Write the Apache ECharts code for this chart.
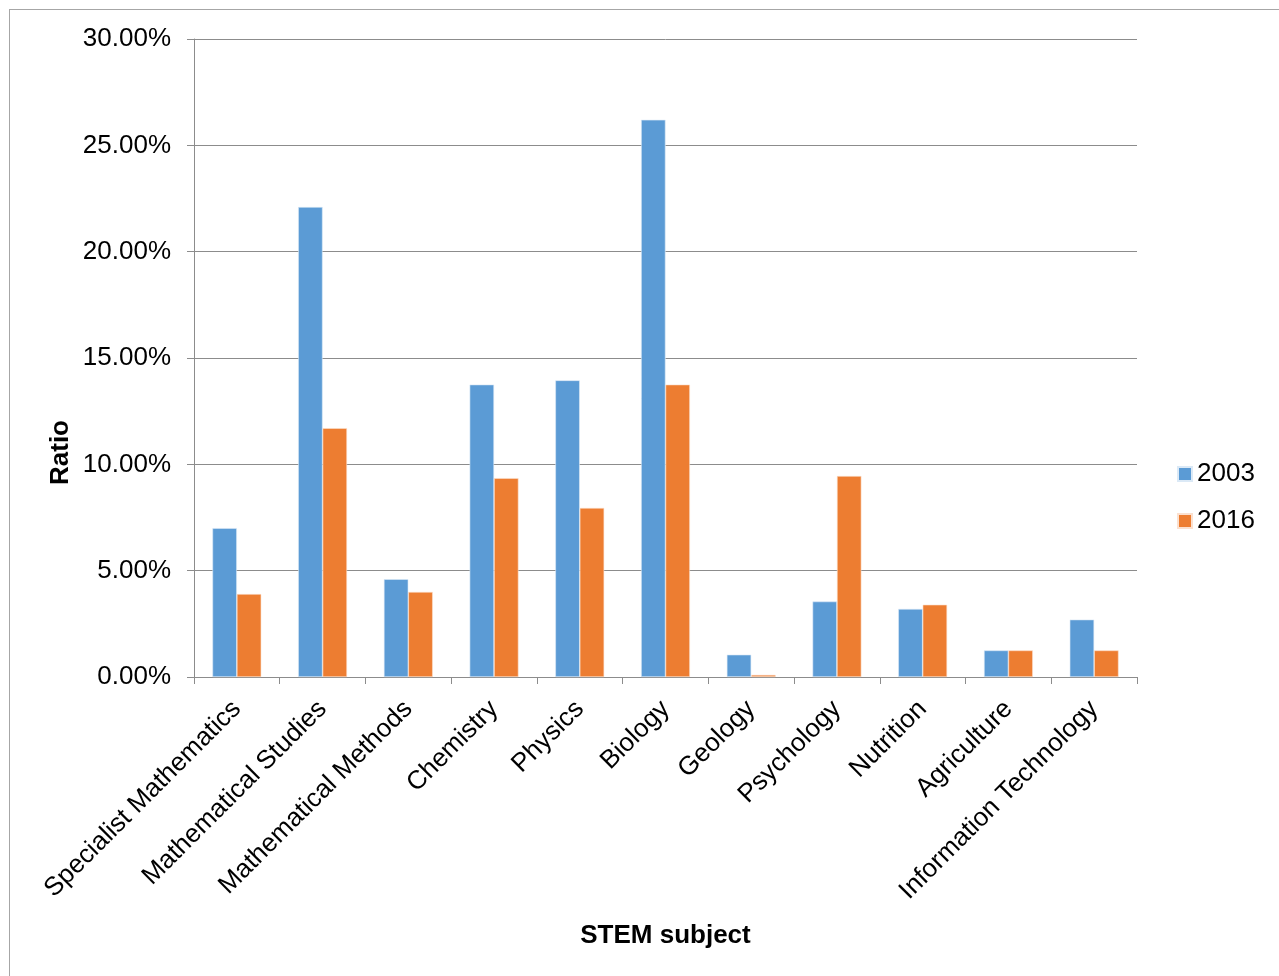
<!DOCTYPE html>
<html style="height: 100%">
<head>
    <meta charset="utf-8">
    <title>STEM subject ratio</title>
    <script src="https://cdn.jsdelivr.net/npm/echarts@6/dist/echarts.min.js"></script>
</head>
<body style="height: 100%; margin: 0; background: #fff">
<div id="frame" style="position: absolute; left: 9px; top: 9px; width: 1300px; height: 1000px; border: 1px solid #a6a6a6; box-sizing: border-box"></div>
<div id="container" style="position: absolute; left: 0; top: 0; width: 1279px; height: 976px"></div>

<script type="text/javascript">
    var subjects = ['Specialist Mathematics', 'Mathematical Studies', 'Mathematical Methods', 'Chemistry',
        'Physics', 'Biology', 'Geology', 'Psychology', 'Nutrition', 'Agriculture', 'Information Technology'];
    // percent values
    var ratio2003 = [7.0, 22.1, 4.6, 13.75, 13.95, 26.2, 1.05, 3.55, 3.2, 1.25, 2.7];
    var ratio2016 = [3.9, 11.7, 4.0, 9.35, 7.95, 13.75, 0.1, 9.45, 3.4, 1.25, 1.25];
    var yTicks = { min: 0, max: 30, interval: 5 };

    var myChart = echarts.init(document.getElementById('container'));
    var font = 'Liberation Sans, Arial, sans-serif';

    var option = {
        backgroundColor: 'transparent',
        textStyle: { fontFamily: font },
        grid: { left: 194, right: 142, top: 39, bottom: 299 },
        legend: {
            orient: 'vertical',
            left: 1177,
            top: 461,
            padding: 0,
            itemWidth: 14,
            itemHeight: 14,
            itemGap: 21,
            icon: 'rect',
            textStyle: { fontSize: 26, color: '#000', fontFamily: font },
            data: ['2003', '2016']
        },
        // y axis title sits lower than the grid middle, as in the source
        graphic: [{
            type: 'text',
            left: 48,
            top: 420,
            rotation: Math.PI / 2,
            style: { text: 'Ratio', font: 'bold 26px ' + font, fill: '#000' }
        }],
        xAxis: {
            type: 'category',
            data: subjects,
            name: 'STEM subject',
            nameLocation: 'middle',
            nameGap: 246,
            nameTextStyle: { fontSize: 26, fontWeight: 'bold', color: '#000' },
            axisLine: { lineStyle: { color: '#8c8c8c', width: 1 } },
            axisTick: { show: true, length: 7, lineStyle: { color: '#8c8c8c' } },
            axisLabel: { rotate: 45, fontSize: 26, color: '#000', margin: 28, interval: 0 }
        },
        yAxis: {
            type: 'value',
            min: yTicks.min,
            max: yTicks.max,
            interval: yTicks.interval,
            axisLine: { show: true, lineStyle: { color: '#8c8c8c' } },
            axisTick: { show: true, length: 7, lineStyle: { color: '#8c8c8c' } },
            splitLine: { lineStyle: { color: '#8c8c8c' } },
            axisLabel: {
                fontSize: 26, color: '#000', margin: 23,
                formatter: function (v) { return v.toFixed(2) + '%'; }
            }
        },
        series: [{
            name: '2003',
            type: 'bar',
            data: ratio2003,
            barGap: '0%',
            barCategoryGap: '43%',
            itemStyle: { color: '#5b9bd5', borderColor: '#dbe9f6', borderWidth: 0.6 }
        }, {
            name: '2016',
            type: 'bar',
            data: ratio2016,
            barGap: '0%',
            barCategoryGap: '43%',
            itemStyle: { color: '#ed7d31', borderColor: '#fbe0cf', borderWidth: 0.6 }
        }]
    };
    myChart.setOption(option);
</script>
</body>
</html>
